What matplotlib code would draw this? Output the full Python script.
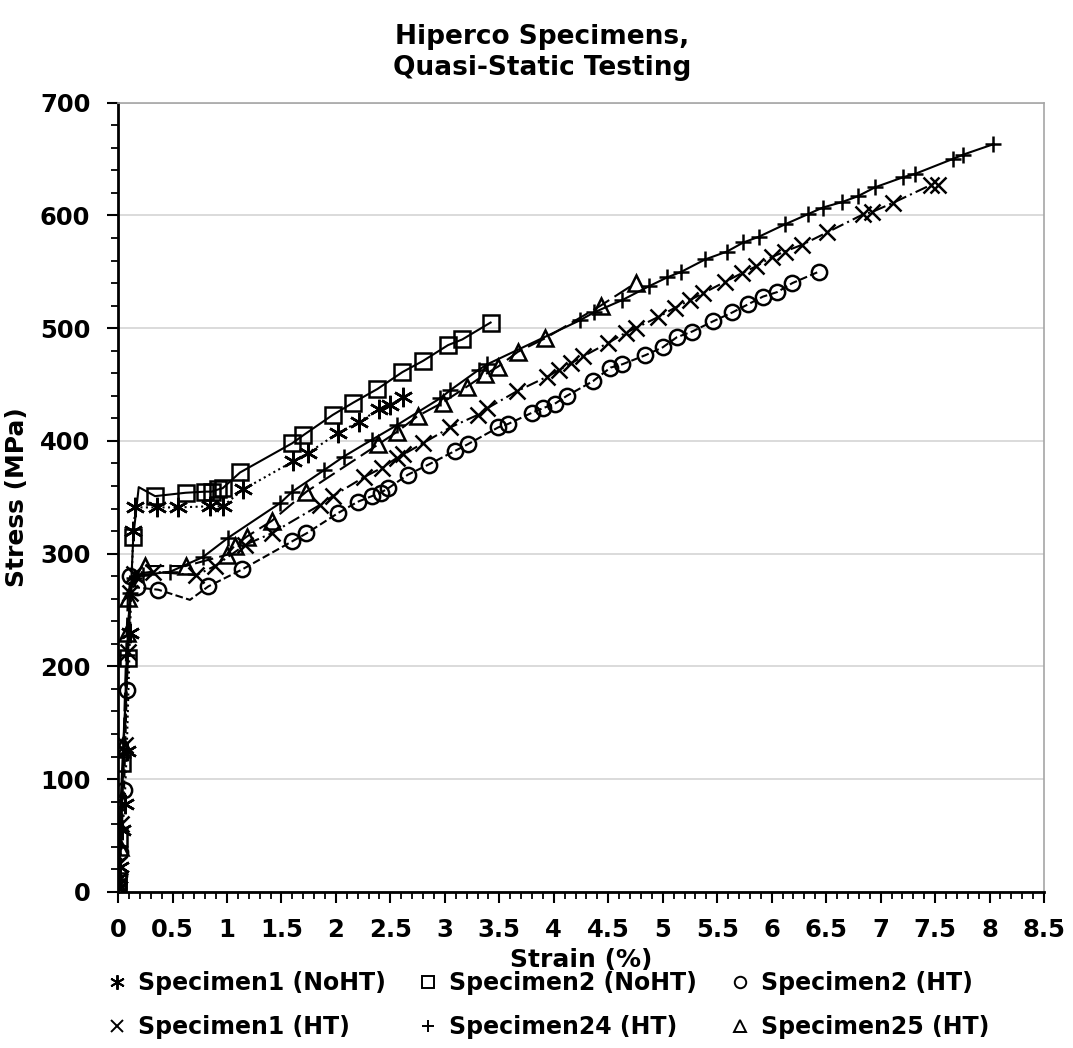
import numpy as np
import matplotlib
matplotlib.use("Agg")
import matplotlib.pyplot as plt
from matplotlib.lines import Line2D
from matplotlib.ticker import MultipleLocator, FormatStrFormatter

# data (strain in %, stress in MPa)
s1_noht_strain = [0.0, 0.01, 0.02, 0.04, 0.06, 0.08, 0.11, 0.14, 0.16, 0.36, 0.55, 0.84, 0.96, 1.15,
                  1.61, 1.74, 2.02, 2.21, 2.40, 2.50, 2.62]
s1_noht_stress = [3, 12, 22, 55, 78, 125, 230, 320, 341, 341, 341, 342, 342, 357,
                  382, 389, 407, 417, 428, 432, 439]

s2_noht_strain = [0.0, 0.0, 0.01, 0.04, 0.09, 0.14, 0.19, 0.34, 0.62, 0.80, 0.86, 0.92, 0.96, 1.12,
                  1.60, 1.70, 1.97, 2.16, 2.38, 2.61, 2.80, 3.03, 3.16, 3.42]
s2_noht_stress = [4, 10, 48, 114, 207, 315, 359, 351, 354, 355, 355, 357, 358, 372,
                  398, 405, 423, 434, 446, 461, 471, 485, 490, 505]

s2_ht_strain = [0.0, 0.01, 0.02, 0.055, 0.08, 0.11, 0.17, 0.37, 0.66, 0.83, 1.14, 1.60, 1.73, 2.02,
                2.20, 2.33, 2.41, 2.48, 2.66, 2.85, 3.09, 3.21, 3.49, 3.58, 3.80, 3.90, 4.01, 4.12,
                4.36, 4.52, 4.63, 4.84, 5.00, 5.13, 5.27, 5.46, 5.64, 5.78, 5.92, 6.05, 6.19, 6.43]
s2_ht_stress = [4, 15, 35, 90, 179, 280, 270, 268, 259, 271, 286, 311, 318, 336,
                346, 351, 354, 358, 370, 379, 391, 397, 412, 415, 425, 429, 433, 440,
                453, 465, 468, 476, 483, 492, 497, 506, 514, 521, 528, 532, 540, 550]

s1_ht_strain = [0.0, 0.01, 0.03, 0.06, 0.09, 0.11, 0.15, 0.32, 0.72, 0.89, 1.17, 1.41, 1.85, 1.97,
                2.26, 2.42, 2.56, 2.62, 2.80, 3.05, 3.30, 3.39, 3.66, 3.94, 4.05, 4.16, 4.27, 4.50,
                4.66, 4.75, 4.96, 5.11, 5.25, 5.37, 5.57, 5.73, 5.86, 6.00, 6.12, 6.28, 6.51, 6.84,
                6.92, 7.11, 7.46, 7.53]
s1_ht_stress = [5, 25, 60, 130, 213, 265, 282, 284, 281, 289, 308, 318, 343, 351,
                368, 376, 385, 388, 398, 412, 423, 429, 444, 457, 463, 469, 475, 487,
                496, 500, 510, 518, 525, 531, 541, 549, 555, 563, 568, 574, 585, 601,
                603, 611, 627, 627]

s24_ht_strain = [0.0, 0.02, 0.05, 0.08, 0.11, 0.15, 0.23, 0.48, 0.78, 1.01, 1.49, 1.60, 1.89, 2.07,
                 2.33, 2.56, 2.96, 3.05, 3.31, 3.39, 4.24, 4.37, 4.63, 4.87, 5.04, 5.17, 5.39, 5.59,
                 5.74, 5.88, 6.12, 6.33, 6.47, 6.65, 6.79, 6.95, 7.21, 7.32, 7.66, 7.76, 8.03]
s24_ht_stress = [5, 40, 120, 210, 265, 278, 281, 284, 297, 314, 345, 355, 374, 386,
                 401, 414, 438, 445, 463, 468, 507, 514, 525, 537, 545, 550, 561, 568,
                 576, 581, 592, 601, 607, 612, 617, 625, 634, 637, 650, 654, 663]

s25_ht_strain = [0.0, 0.02, 0.05, 0.08, 0.09, 0.25, 0.62, 1.00, 1.07, 1.18, 1.41, 1.73, 2.39, 2.56,
                 2.75, 2.98, 3.20, 3.37, 3.49, 3.67, 3.92, 4.43, 4.75]
s25_ht_stress = [5, 40, 130, 230, 261, 289, 289, 299, 307, 315, 329, 355, 397, 408,
                 422, 434, 448, 459, 466, 479, 491, 520, 540]

# label, x, y, marker, marker size, linestyle, points drawn without a marker
series = [
    ("Specimen1 (NoHT)", s1_noht_strain, s1_noht_stress, (6, 2, 0), 14, ":", []),
    ("Specimen1 (HT)", s1_ht_strain, s1_ht_stress, "x", 11, (0, (6, 2, 1, 2)), []),
    ("Specimen2 (NoHT)", s2_noht_strain, s2_noht_stress, "s", 11, "-", [6]),
    ("Specimen24 (HT)", s24_ht_strain, s24_ht_stress, "+", 12, "-", []),
    ("Specimen2 (HT)", s2_ht_strain, s2_ht_stress, "o", 11, "--", [8]),
    ("Specimen25 (HT)", s25_ht_strain, s25_ht_stress, "^", 11, (0, (9, 3)), []),
]

plt.rcParams['font.family'] = 'DejaVu Sans'
plt.rcParams['font.weight'] = 'bold'

fig = plt.figure(figsize=(10.73, 10.48), dpi=100)
ax = fig.add_axes([0.110, 0.149, 0.863, 0.753])

handles = []
for label, x, y, mk, ms, ls, skip in series:
    keep = [i for i in range(len(x)) if i not in skip]
    ax.plot(x, y, color='black', linestyle=ls, linewidth=1.5,
            marker=mk, markersize=ms, markerfacecolor='none',
            markeredgecolor='black', markeredgewidth=1.8, markevery=keep)
    handles.append(Line2D([], [], linestyle='none', marker=mk, markersize=ms * 0.75,
                          markerfacecolor='none', markeredgecolor='black',
                          markeredgewidth=1.4, label=label))

ax.set_xlim(0, 8.5)
ax.set_ylim(0, 700)
ax.xaxis.set_major_locator(MultipleLocator(0.5))
ax.xaxis.set_minor_locator(MultipleLocator(0.1))
ax.yaxis.set_major_locator(MultipleLocator(100))
ax.yaxis.set_minor_locator(MultipleLocator(20))
ax.xaxis.set_major_formatter(FormatStrFormatter('%g'))
ax.tick_params(axis='both', which='major', length=8, width=1.5, direction='out',
               labelsize=17.5)
ax.tick_params(axis='x', which='major', pad=11)
ax.tick_params(axis='y', which='major', pad=12)
ax.tick_params(axis='both', which='minor', length=5, width=1.3, direction='out')
for t in ax.get_xticklabels() + ax.get_yticklabels():
    t.set_fontweight('bold')

ax.grid(axis='y', which='major', color='#d4d4d4', linewidth=1.2)
ax.set_axisbelow(True)
ax.spines['left'].set_linewidth(2)
ax.spines['bottom'].set_linewidth(2)
ax.spines['top'].set_color('#a6a6a6')
ax.spines['right'].set_color('#a6a6a6')
ax.spines['top'].set_linewidth(1.2)
ax.spines['right'].set_linewidth(1.2)

ax.set_xlabel('Strain (%)', fontsize=18, fontweight='bold', labelpad=4)
ax.set_ylabel('Stress (MPa)', fontsize=18, fontweight='bold', labelpad=8)

fig.text(0.505, 0.950, 'Hiperco Specimens,\nQuasi-Static Testing', ha='center', va='center',
         fontsize=19, fontweight='bold', linespacing=1.25)

fig.legend(handles=handles, loc='lower center', bbox_to_anchor=(0.511, -0.012), ncol=3,
           frameon=False, fontsize=17, handlelength=0.8, handletextpad=0.5,
           columnspacing=1.4, labelspacing=0.85)

fig.savefig('out.png', dpi=100)
